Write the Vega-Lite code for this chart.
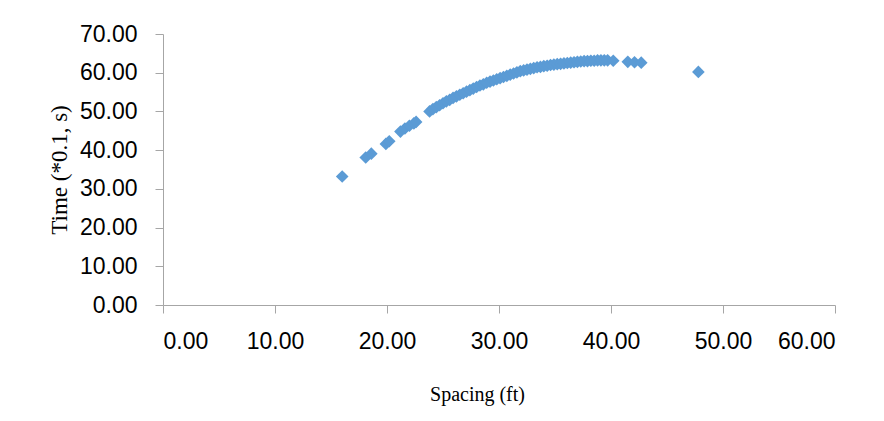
{
  "$schema": "https://vega.github.io/schema/vega-lite/v6.json",
  "width": 672,
  "height": 271,
  "autosize": "none",
  "padding": {"left": 163, "top": 34, "right": 49, "bottom": 116},
  "background": "white",
  "config": {"view": {"stroke": null}},
  "data": {"values": [
    {"spacing": 16.0, "time": 33.2},
    {"spacing": 18.1, "time": 38.1},
    {"spacing": 18.6, "time": 39.1},
    {"spacing": 19.9, "time": 41.6},
    {"spacing": 20.2, "time": 42.3},
    {"spacing": 21.2, "time": 44.8},
    {"spacing": 21.6, "time": 45.6},
    {"spacing": 22.0, "time": 46.3},
    {"spacing": 22.4, "time": 46.9},
    {"spacing": 22.6, "time": 47.3},
    {"spacing": 23.8, "time": 50.0},
    {"spacing": 24.1, "time": 50.6},
    {"spacing": 24.4, "time": 51.1},
    {"spacing": 24.7, "time": 51.6},
    {"spacing": 25.0, "time": 52.1},
    {"spacing": 25.3, "time": 52.6},
    {"spacing": 25.6, "time": 53.0},
    {"spacing": 25.9, "time": 53.5},
    {"spacing": 26.2, "time": 53.9},
    {"spacing": 26.5, "time": 54.3},
    {"spacing": 26.8, "time": 54.7},
    {"spacing": 27.1, "time": 55.1},
    {"spacing": 27.4, "time": 55.5},
    {"spacing": 27.7, "time": 55.9},
    {"spacing": 28.0, "time": 56.3},
    {"spacing": 28.3, "time": 56.7},
    {"spacing": 28.6, "time": 57.0},
    {"spacing": 28.9, "time": 57.4},
    {"spacing": 29.2, "time": 57.7},
    {"spacing": 29.5, "time": 58.0},
    {"spacing": 29.8, "time": 58.3},
    {"spacing": 30.1, "time": 58.6},
    {"spacing": 30.4, "time": 58.9},
    {"spacing": 30.7, "time": 59.2},
    {"spacing": 31.0, "time": 59.5},
    {"spacing": 31.3, "time": 59.8},
    {"spacing": 31.6, "time": 60.1},
    {"spacing": 31.9, "time": 60.4},
    {"spacing": 32.2, "time": 60.6},
    {"spacing": 32.5, "time": 60.8},
    {"spacing": 32.8, "time": 61.0},
    {"spacing": 33.1, "time": 61.2},
    {"spacing": 33.4, "time": 61.4},
    {"spacing": 33.7, "time": 61.5},
    {"spacing": 34.0, "time": 61.7},
    {"spacing": 34.3, "time": 61.8},
    {"spacing": 34.6, "time": 62.0},
    {"spacing": 34.9, "time": 62.1},
    {"spacing": 35.2, "time": 62.2},
    {"spacing": 35.5, "time": 62.3},
    {"spacing": 35.8, "time": 62.4},
    {"spacing": 36.1, "time": 62.5},
    {"spacing": 36.4, "time": 62.6},
    {"spacing": 36.7, "time": 62.7},
    {"spacing": 37.0, "time": 62.8},
    {"spacing": 37.3, "time": 62.9},
    {"spacing": 37.6, "time": 63.0},
    {"spacing": 37.9, "time": 63.0},
    {"spacing": 38.2, "time": 63.1},
    {"spacing": 38.5, "time": 63.1},
    {"spacing": 38.8, "time": 63.2},
    {"spacing": 39.1, "time": 63.2},
    {"spacing": 39.4, "time": 63.2},
    {"spacing": 39.7, "time": 63.2},
    {"spacing": 40.2, "time": 63.1},
    {"spacing": 41.5, "time": 62.8},
    {"spacing": 42.1, "time": 62.7},
    {"spacing": 42.7, "time": 62.6},
    {"spacing": 47.8, "time": 60.2}
  ]},
  "mark": {"type": "point", "shape": "diamond", "filled": true, "size": 160, "color": "#5B9BD5", "opacity": 1},
  "encoding": {
    "x": {
      "field": "spacing", "type": "quantitative",
      "scale": {"domain": [0, 60], "nice": false, "zero": true},
      "axis": {
        "title": "Spacing (ft)", "values": [0, 10, 20, 30, 40, 50, 60], "format": ".2f",
        "grid": false, "domainColor": "#a6a6a6", "tickColor": "#a6a6a6", "tickSize": 8, "domainWidth": 1, "tickWidth": 1,
        "labelFont": "Liberation Sans", "labelFontSize": 23, "labelColor": "#000000", "labelPadding": 17,
        "titleFont": "Liberation Serif", "titleFontSize": 20, "titleFontWeight": "normal", "titleColor": "#000000",
        "titleX": 314, "titleY": 89, "titleBaseline": "middle", "titleAlign": "center"
      }
    },
    "y": {
      "field": "time", "type": "quantitative",
      "scale": {"domain": [0, 70], "nice": false},
      "axis": {
        "title": "Time (*0.1, s)", "values": [0, 10, 20, 30, 40, 50, 60, 70], "format": ".2f",
        "grid": false, "domainColor": "#a6a6a6", "tickColor": "#a6a6a6", "tickSize": 8, "domainWidth": 1, "tickWidth": 1,
        "labelFont": "Liberation Sans", "labelFontSize": 23, "labelColor": "#000000", "labelPadding": 18,
        "titleFont": "Liberation Serif", "titleFontSize": 23, "titleFontWeight": "normal", "titleColor": "#000000",
        "titlePadding": 8
      }
    }
  }
}
